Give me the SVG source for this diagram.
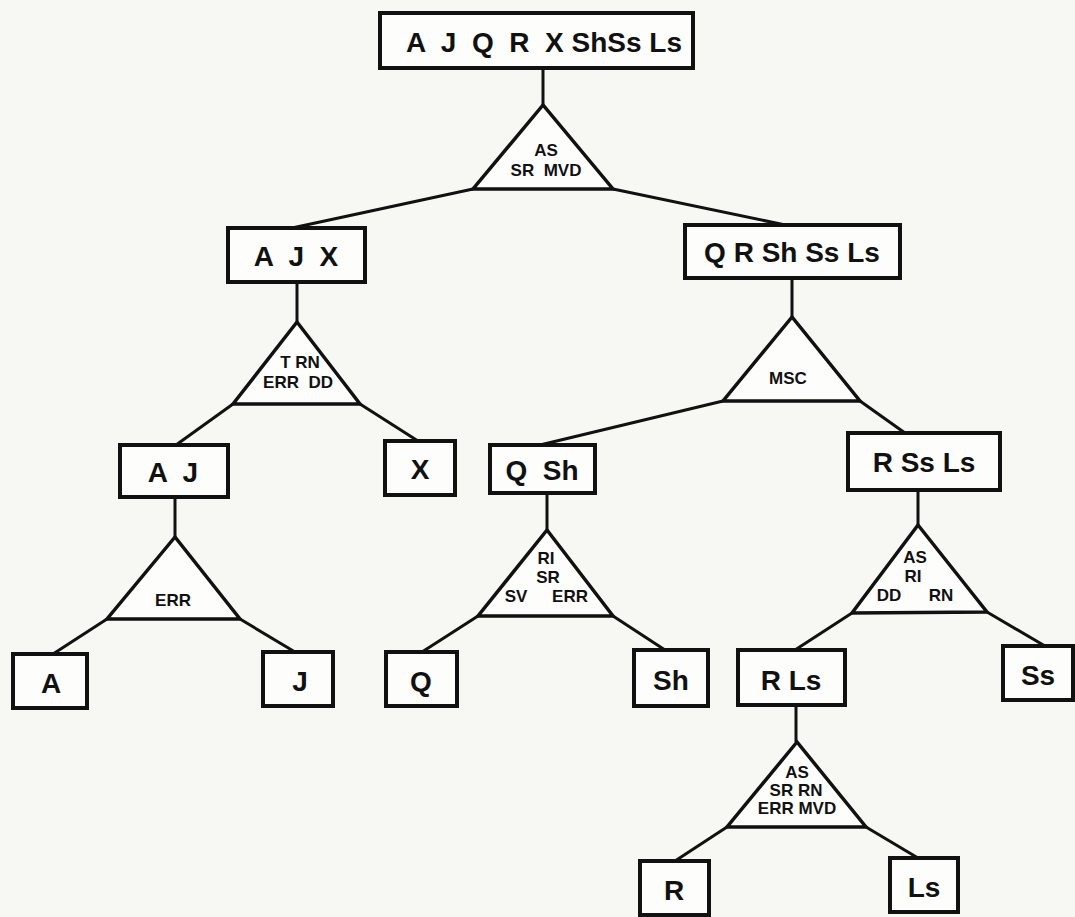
<svg xmlns="http://www.w3.org/2000/svg" width="1075" height="917" viewBox="0 0 1075 917">
<style>
.box{fill:#fdfdfb;stroke:#111;stroke-width:4}
.tri{fill:#fdfdfb;stroke:#111;stroke-width:3.5;stroke-linejoin:miter}
.ln{stroke:#111;stroke-width:3;fill:none}
.bt{font-family:"Liberation Sans",Arial,sans-serif;font-weight:bold;font-size:28px;fill:#111;text-anchor:middle}
.tt{font-family:"Liberation Sans",Arial,sans-serif;font-weight:bold;font-size:17px;fill:#111;text-anchor:middle}
</style>
<rect width="1075" height="917" fill="#f7f7f4"/>
<g id="connectors">
<line class="ln" x1="543" y1="68" x2="543" y2="105"/>
<line class="ln" x1="473" y1="189" x2="292" y2="228"/>
<line class="ln" x1="613" y1="189" x2="790" y2="226"/>
<line class="ln" x1="297" y1="282" x2="297" y2="322"/>
<line class="ln" x1="233" y1="404" x2="176" y2="445"/>
<line class="ln" x1="360" y1="404" x2="418" y2="441"/>
<line class="ln" x1="792" y1="278" x2="792" y2="317"/>
<line class="ln" x1="723" y1="401" x2="540" y2="445"/>
<line class="ln" x1="860" y1="401" x2="905" y2="433"/>
<line class="ln" x1="175" y1="497" x2="175" y2="537"/>
<line class="ln" x1="107" y1="619" x2="53" y2="654"/>
<line class="ln" x1="240" y1="619" x2="295" y2="652"/>
<line class="ln" x1="547" y1="493" x2="547" y2="530"/>
<line class="ln" x1="478" y1="616" x2="422" y2="652"/>
<line class="ln" x1="613" y1="616" x2="665" y2="650"/>
<line class="ln" x1="918" y1="490" x2="918" y2="525"/>
<line class="ln" x1="852" y1="613" x2="795" y2="650"/>
<line class="ln" x1="987" y1="612" x2="1045" y2="646"/>
<line class="ln" x1="796" y1="705" x2="796" y2="742"/>
<line class="ln" x1="727" y1="827" x2="675" y2="861"/>
<line class="ln" x1="866" y1="827" x2="918" y2="858"/>
</g>
<g id="n_root"><rect class="box" x="380" y="13" width="313" height="55"/><text class="bt" x="544" y="52" font-size="30" xml:space="preserve">A  J  Q  R  X ShSs Ls</text></g>
<g id="t_root"><polygon class="tri" points="543,105 473,189 613,189"/><text class="tt" x="546" y="156">AS</text><text class="tt" x="546" y="176" xml:space="preserve">SR  MVD</text></g>
<g id="n_ajx"><rect class="box" x="228" y="228" width="137" height="54"/><text class="bt" x="296" y="266" xml:space="preserve">A  J  X</text></g>
<g id="n_qrsh"><rect class="box" x="685" y="225" width="215" height="53"/><text class="bt" x="792" y="262">Q R Sh Ss Ls</text></g>
<g id="t_ajx"><polygon class="tri" points="297,322 233,404 360,404"/><text class="tt" x="300" y="368">T RN</text><text class="tt" x="298" y="388" xml:space="preserve">ERR  DD</text></g>
<g id="n_aj"><rect class="box" x="120" y="445" width="108" height="52"/><text class="bt" x="173" y="482" xml:space="preserve">A  J</text></g>
<g id="n_x"><rect class="box" x="385" y="441" width="70" height="54"/><text class="bt" x="420" y="479">X</text></g>
<g id="t_qrsh"><polygon class="tri" points="792,317 723,401 860,401"/><text class="tt" x="788" y="384">MSC</text></g>
<g id="n_qsh"><rect class="box" x="490" y="445" width="105" height="48"/><text class="bt" x="542" y="480" xml:space="preserve">Q  Sh</text></g>
<g id="n_rssls"><rect class="box" x="848" y="433" width="152" height="57"/><text class="bt" x="924" y="472">R Ss Ls</text></g>
<g id="t_aj"><polygon class="tri" points="175,537 107,619 240,619"/><text class="tt" x="173" y="606">ERR</text></g>
<g id="t_qsh"><polygon class="tri" points="547,530 478,616 613,616"/><text class="tt" x="546" y="564">RI</text><text class="tt" x="548" y="583">SR</text><text class="tt" x="516" y="602">SV</text><text class="tt" x="570" y="602">ERR</text></g>
<g id="t_rssls"><polygon class="tri" points="918,525 852,613 987,612"/><text class="tt" x="915" y="563">AS</text><text class="tt" x="913" y="582">RI</text><text class="tt" x="889" y="601">DD</text><text class="tt" x="941" y="601">RN</text></g>
<g id="n_a"><rect class="box" x="13" y="654" width="74" height="54"/><text class="bt" x="51" y="693">A</text></g>
<g id="n_j"><rect class="box" x="263" y="652" width="70" height="54"/><text class="bt" x="300" y="691">J</text></g>
<g id="n_q"><rect class="box" x="386" y="652" width="71" height="54"/><text class="bt" x="421" y="691">Q</text></g>
<g id="n_sh"><rect class="box" x="634" y="650" width="74" height="56"/><text class="bt" x="671" y="690">Sh</text></g>
<g id="n_rls"><rect class="box" x="738" y="650" width="107" height="55"/><text class="bt" x="791" y="690">R Ls</text></g>
<g id="n_ss"><rect class="box" x="1003" y="646" width="70" height="54"/><text class="bt" x="1038" y="685">Ss</text></g>
<g id="t_rls"><polygon class="tri" points="797,742 727,827 866,827"/><text class="tt" x="797" y="778">AS</text><text class="tt" x="796" y="796">SR RN</text><text class="tt" x="797" y="814">ERR MVD</text></g>
<g id="n_r"><rect class="box" x="640" y="861" width="69" height="54"/><text class="bt" x="674" y="900">R</text></g>
<g id="n_ls"><rect class="box" x="890" y="858" width="68" height="54"/><text class="bt" x="924" y="897">Ls</text></g>
</svg>
